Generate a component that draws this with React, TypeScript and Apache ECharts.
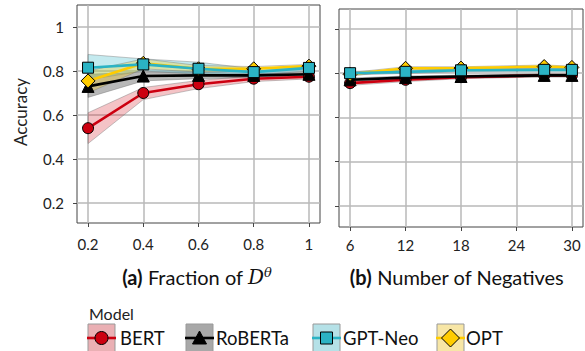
import React, { useEffect, useRef } from "react";
import * as echarts from "echarts";

// ---------- data ----------
const xFraction = [0.2, 0.4, 0.6, 0.8, 1];
const xNegatives = [6, 12, 18, 27, 30];
const yTicks = [0.2, 0.4, 0.6, 0.8, 1];
const xFractionTicks = [0.2, 0.4, 0.6, 0.8, 1];
const xNegativeTicks = [6, 12, 18, 24, 30];
const modelNames = ["BERT", "RoBERTa", "GPT-Neo", "OPT"];

// (a) Fraction of D^theta
const bertA = [0.54, 0.70, 0.74, 0.765, 0.774];
const bertALo = [0.47, 0.67, 0.72, 0.752, 0.764];
const bertAHi = [0.61, 0.725, 0.757, 0.778, 0.784];
const robertaA = [0.73, 0.777, 0.78, 0.78, 0.785];
const robertaALo = [0.68, 0.755, 0.765, 0.77, 0.775];
const robertaAHi = [0.785, 0.795, 0.795, 0.79, 0.795];
const gptA = [0.815, 0.83, 0.81, 0.795, 0.814];
const gptALo = [0.76, 0.80, 0.785, 0.78, 0.80];
const gptAHi = [0.875, 0.855, 0.84, 0.81, 0.825];
const optA = [0.755, 0.835, 0.81, 0.81, 0.822];
const optALo = [0.70, 0.81, 0.795, 0.80, 0.812];
const optAHi = [0.80, 0.855, 0.825, 0.82, 0.83];

// (b) Number of Negatives
const bertB = [0.755, 0.77, 0.782, 0.79, 0.79];
const bertBLo = [0.745, 0.762, 0.775, 0.783, 0.783];
const bertBHi = [0.765, 0.778, 0.789, 0.797, 0.797];
const robertaB = [0.77, 0.78, 0.785, 0.79, 0.79];
const robertaBLo = [0.762, 0.773, 0.779, 0.784, 0.784];
const robertaBHi = [0.778, 0.787, 0.791, 0.796, 0.796];
const gptB = [0.80, 0.806, 0.813, 0.815, 0.815];
const gptBLo = [0.792, 0.799, 0.807, 0.809, 0.809];
const gptBHi = [0.808, 0.813, 0.819, 0.821, 0.821];
const optB = [0.795, 0.822, 0.823, 0.83, 0.826];
const optBLo = [0.787, 0.815, 0.817, 0.823, 0.82];
const optBHi = [0.803, 0.829, 0.829, 0.837, 0.832];

// ---------- styles ----------
const FONT = "Lato, 'Open Sans', sans-serif";
const colors = ["#cc0010", "#000000", "#2bb3c4", "#ffcc00"];
const bandFills = [
  "rgba(215,40,50,0.28)",
  "rgba(0,0,0,0.28)",
  "rgba(43,179,196,0.28)",
  "rgba(255,204,0,0.28)",
];
const legendFills = ["#eab0b4", "#a8a8a8", "#b5e1e7", "#f7e6a6"];
const symbols = ["circle", "triangle", "rect", "diamond"];
const symbolSizes = [11, 12, 11, 14];
const zOrder = [3, 4, 6, 5];

function pairs(xs: number[], ys: number[]) {
  return xs.map((x, i) => [x, ys[i]]);
}

function bandSeries(idx: number, grid: number, xs: number[], lo: number[], hi: number[]) {
  return {
    type: "custom",
    xAxisIndex: grid,
    yAxisIndex: grid,
    data: [[xs[0], lo[0]]],
    encode: { x: 0, y: 1 },
    silent: true,
    z: 1,
    renderItem: (_params: any, api: any) => {
      const top = xs.map((x, i) => api.coord([x, hi[i]]));
      const bottom = xs.map((x, i) => api.coord([x, lo[i]])).reverse();
      return {
        type: "polygon",
        shape: { points: top.concat(bottom) },
        style: { fill: bandFills[idx], stroke: "rgba(120,120,120,0.55)", lineWidth: 0.8 },
      };
    },
  };
}

function mainSeries(idx: number, grid: number, xs: number[], ys: number[]) {
  return {
    type: "line",
    name: modelNames[idx],
    xAxisIndex: grid,
    yAxisIndex: grid,
    data: pairs(xs, ys),
    symbol: symbols[idx],
    symbolSize: symbolSizes[idx],
    lineStyle: { color: colors[idx], width: 2.6 },
    itemStyle: { color: colors[idx], borderColor: "#000", borderWidth: 1 },
    z: zOrder[idx],
  };
}

function legendItem(idx: number, bx: number, tx: number) {
  const cx = bx + 13.5;
  const cy = 338;
  const els: any[] = [
    {
      type: "rect",
      shape: { x: bx, y: 324, width: 27, height: 30 },
      style: { fill: legendFills[idx], stroke: "#999", lineWidth: 1 },
    },
    {
      type: "line",
      shape: { x1: bx - 1, y1: cy, x2: bx + 28, y2: cy },
      style: { stroke: colors[idx], lineWidth: 2.6 },
    },
  ];
  const mk = { fill: colors[idx], stroke: "#000", lineWidth: 1 };
  if (symbols[idx] === "circle") {
    els.push({ type: "circle", shape: { cx, cy, r: 6.5 }, style: mk });
  } else if (symbols[idx] === "triangle") {
    els.push({
      type: "polygon",
      shape: { points: [[cx, cy - 7], [cx + 7, cy + 6], [cx - 7, cy + 6]] },
      style: mk,
    });
  } else if (symbols[idx] === "rect") {
    els.push({ type: "rect", shape: { x: cx - 6, y: cy - 6, width: 12, height: 12 }, style: mk });
  } else {
    els.push({
      type: "polygon",
      shape: { points: [[cx, cy - 9], [cx + 9, cy], [cx, cy + 9], [cx - 9, cy]] },
      style: mk,
    });
  }
  els.push({
    type: "text",
    x: tx,
    y: cy,
    style: {
      text: modelNames[idx],
      fill: "#111",
      fontSize: 18.5,
      fontFamily: FONT,
      align: "left",
      verticalAlign: "middle",
    },
  });
  return els;
}

const axisCommon = {
  axisLine: { show: false },
  axisTick: { show: true, length: 4, lineStyle: { color: "#444", width: 1 } },
  splitLine: { show: true, lineStyle: { color: "#b9b9b9", width: 1.5 } },
};

export default function App() {
  const ref = useRef<HTMLDivElement>(null);
  useEffect(() => {
    if (!ref.current) return;
    const chart = echarts.init(ref.current, undefined, { renderer: "svg" });
    const labelStyle = { color: "#222", fontSize: 15, fontFamily: FONT };

    const series: any[] = [];
    const setsA = [
      [bertA, bertALo, bertAHi],
      [robertaA, robertaALo, robertaAHi],
      [gptA, gptALo, gptAHi],
      [optA, optALo, optAHi],
    ];
    const setsB = [
      [bertB, bertBLo, bertBHi],
      [robertaB, robertaBLo, robertaBHi],
      [gptB, gptBLo, gptBHi],
      [optB, optBLo, optBHi],
    ];
    setsA.forEach((s, i) => series.push(bandSeries(i, 0, xFraction, s[1], s[2])));
    setsB.forEach((s, i) => series.push(bandSeries(i, 1, xNegatives, s[1], s[2])));
    setsA.forEach((s, i) => series.push(mainSeries(i, 0, xFraction, s[0])));
    setsB.forEach((s, i) => series.push(mainSeries(i, 1, xNegatives, s[0])));

    const graphic: any[] = [
      {
        type: "text",
        x: 20,
        y: 112,
        rotation: Math.PI / 2,
        style: {
          text: "Accuracy",
          fill: "#222",
          fontSize: 17,
          fontFamily: FONT,
          align: "center",
          verticalAlign: "middle",
        },
      },
      {
        type: "text",
        x: 197,
        y: 277,
        style: {
          text: "{b|(a)} Fraction of {m|D}{s|θ}",
          fill: "#111",
          fontSize: 20,
          fontFamily: FONT,
          align: "center",
          verticalAlign: "middle",
          rich: {
            b: { fontWeight: "bold", fontSize: 20, fontFamily: FONT },
            m: { fontStyle: "italic", fontSize: 20, fontFamily: "'DejaVu Serif', serif" },
            s: {
              fontStyle: "italic",
              fontSize: 13,
              fontFamily: "'DejaVu Serif', serif",
              padding: [0, 0, 10, 0],
            },
          },
        },
      },
      {
        type: "text",
        x: 457,
        y: 277,
        style: {
          text: "{b|(b)} Number of Negatives",
          fill: "#111",
          fontSize: 20,
          fontFamily: FONT,
          align: "center",
          verticalAlign: "middle",
          rich: {
            b: { fontWeight: "bold", fontSize: 20, fontFamily: FONT },
          },
        },
      },
      {
        type: "text",
        x: 89,
        y: 313,
        style: {
          text: "Model",
          fill: "#222",
          fontSize: 16,
          fontFamily: FONT,
          align: "left",
          verticalAlign: "middle",
        },
      },
      ...legendItem(0, 88, 120),
      ...legendItem(1, 186, 216),
      ...legendItem(2, 313, 343),
      ...legendItem(3, 437, 466),
    ];

    chart.setOption({
      animation: false,
      backgroundColor: "#fff",
      grid: [
        { left: 77, top: 5, width: 243, height: 218, show: true, borderColor: "#444", borderWidth: 1, backgroundColor: "transparent" },
        { left: 339, top: 9, width: 244, height: 218, show: true, borderColor: "#444", borderWidth: 1, backgroundColor: "transparent" },
      ],
      xAxis: [
        {
          type: "value",
          gridIndex: 0,
          min: 0.16,
          max: 1.04,
          ...axisCommon,
          axisTick: { ...axisCommon.axisTick, customValues: xFractionTicks },
          axisLabel: { ...labelStyle, margin: 13, customValues: xFractionTicks },
        },
        {
          type: "value",
          gridIndex: 1,
          min: 4.8,
          max: 31.2,
          ...axisCommon,
          axisTick: { ...axisCommon.axisTick, customValues: xNegativeTicks },
          axisLabel: { ...labelStyle, margin: 10, customValues: xNegativeTicks },
        },
      ],
      yAxis: [
        {
          type: "value",
          gridIndex: 0,
          min: 0.109,
          max: 1.1,
          ...axisCommon,
          axisTick: { ...axisCommon.axisTick, customValues: yTicks },
          axisLabel: { ...labelStyle, margin: 13, customValues: yTicks },
        },
        {
          type: "value",
          gridIndex: 1,
          min: 0.105,
          max: 1.09,
          ...axisCommon,
          axisTick: { ...axisCommon.axisTick, customValues: yTicks },
          axisLabel: { show: false, customValues: yTicks },
        },
      ],
      series,
      graphic,
    });
    return () => chart.dispose();
  }, []);

  return (
    <div style={{ position: "fixed", left: 0, top: 0, width: 585, height: 351, background: "#fff" }}>
      <div ref={ref} style={{ width: 585, height: 351 }} />
    </div>
  );
}
